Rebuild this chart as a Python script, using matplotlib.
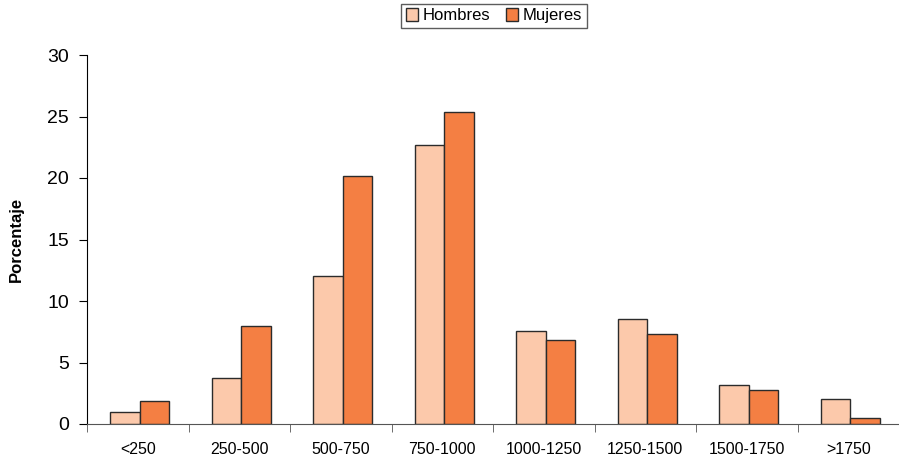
import numpy as np
import matplotlib
matplotlib.use('Agg')
import matplotlib.pyplot as plt
from matplotlib.patches import Patch

plt.rcParams['font.family'] = ['Liberation Sans', 'DejaVu Sans']

categories = ['<250', '250-500', '500-750', '750-1000', '1000-1250',
              '1250-1500', '1500-1750', '>1750']
hombres = [1.0, 3.7, 12.0, 22.7, 7.6, 8.5, 3.2, 2.0]
mujeres = [1.9, 8.0, 20.2, 25.4, 6.8, 7.3, 2.8, 0.5]

c_h = '#fcc9ab'
c_m = '#f47f43'
edge = '#2b2b2b'

fig = plt.figure(figsize=(8.99, 4.57), dpi=100)
ax = fig.add_axes([87/899, 33/457, (899-87)/899, 369/457])

x = np.arange(len(categories))
w = 0.29
ax.bar(x - w/2 + 0.02, hombres, w, color=c_h, edgecolor=edge, linewidth=1.0)
ax.bar(x + w/2 + 0.02, mujeres, w, color=c_m, edgecolor=edge, linewidth=1.0)

ax.set_xlim(-0.5, -0.5 + (899-87)/102.3)
ax.set_ylim(0, 30)
ax.set_yticks(range(0, 31, 5))
ax.tick_params(axis='y', direction='out', length=6, labelsize=14, pad=7)

ax.set_xticks(x)
ax.set_xticklabels(categories)
ax.tick_params(axis='x', which='major', length=0, labelsize=11.5, pad=13)
ax.set_xticks(np.arange(-0.5, len(categories) + 0.5, 1), minor=True)
ax.tick_params(axis='x', which='minor', direction='out', length=6, color='#555555')

ax.spines['top'].set_visible(False)
ax.spines['right'].set_visible(False)
ax.spines['bottom'].set_color('#555555')

ax.set_ylabel('Porcentaje', fontsize=12, fontweight='bold', labelpad=17)

handles = [Patch(facecolor=c_h, edgecolor=edge, label='Hombres'),
           Patch(facecolor=c_m, edgecolor=edge, label='Mujeres')]
fig.legend(handles=handles, loc='upper center', bbox_to_anchor=(494/899, 1.0),
           ncol=2, fontsize=12, frameon=True, fancybox=False, edgecolor='#333333',
           handlelength=0.75, handleheight=0.75, handletextpad=0.3, columnspacing=0.9,
           borderpad=0.25, borderaxespad=0.25)

fig.savefig('out.png', dpi=100)
